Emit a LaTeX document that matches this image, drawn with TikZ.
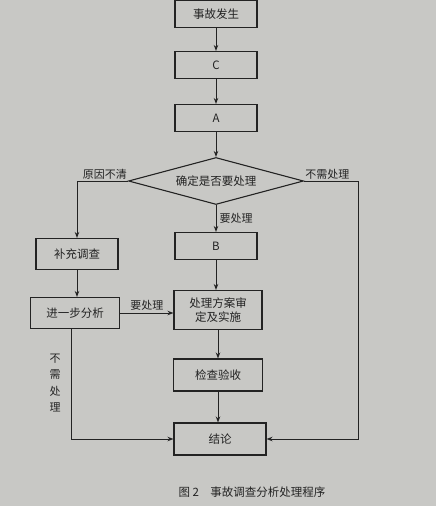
\documentclass[tikz,border=0pt]{standalone}
\usepackage{fontspec}
\setmainfont{Noto Sans CJK SC}
\usepackage{tikz}
\usetikzlibrary{arrows.meta, positioning, shapes.geometric}
\definecolor{paper}{RGB}{200,200,197}
\definecolor{ink}{RGB}{35,35,35}

\begin{document}
\begin{tikzpicture}[x=1pt,y=-1pt,
    box/.style={draw=ink,line width=1.1pt,minimum width=82pt,minimum height=27pt,
      inner sep=2pt,align=center,text=ink,font=\fontsize{11.5}{14}\selectfont},
    decide/.style={draw=ink,line width=1.1pt,diamond,aspect=3.7,inner sep=0pt,
      minimum width=175pt,minimum height=47pt,text=ink,font=\fontsize{11.5}{14}\selectfont},
    lbl/.style={inner sep=1pt,text=ink,font=\fontsize{11}{13}\selectfont},
    arrow/.style={-{Stealth[length=6pt,width=4.5pt]},line width=1pt,ink},
    >=Stealth
  ]
  \fill[paper] (0,0) rectangle (436,506);
  \useasboundingbox (0,0) rectangle (436,506);

  % main column
  \node[box] (start) at (216,14) {事故发生};
  \node[box] (c) at (216,65) {C};
  \node[box] (a) at (216,118) {A};
  \node[decide] (chk) at (216,181) {确定是否要处理};
  \node[box] (b) at (216,246) {B};
  \node[box,minimum width=88pt,minimum height=39pt] (plan) at (218,310) {处理方案审\\定及实施};
  \node[box,minimum width=89pt,minimum height=32pt] (verify) at (218,375) {检查验收};
  \node[box,minimum width=92pt,minimum height=32pt] (result) at (220,439) {结论};

  % left column
  \node[box,minimum height=31pt] (extra) at (77,254) {补充调查};
  \node[box,minimum width=89pt,minimum height=31pt] (further) at (75,313) {进一步分析};

  % right return line
  \coordinate (rturn) at (358,181);

  \draw[arrow] (start) -- (c);
  \draw[arrow] (c) -- (a);
  \draw[arrow] (a) -- (chk);
  \draw[arrow] (chk) -- node[lbl,right=2pt] {要处理} (b);
  \draw[arrow] (b.south) -- (b.south |- plan.north);
  \draw[arrow] (plan) -- (verify);
  \draw[arrow] (verify.south) -- (verify.south |- result.north);

  \draw[arrow] (chk.west) -| (extra.north);
  \node[lbl,anchor=south east] (lblA) at (chk.west) {原因不清};
  \draw[arrow] (chk.east) -- (rturn) |- (result.east);
  \node[lbl,anchor=south west] (lblB) at (chk.east) {不需处理};

  \draw[arrow] (extra.south) -- (extra.south |- further.north);
  \draw[arrow] (further.east) -- node[lbl,above=1pt] {要处理} (further.east -| plan.west);
  \draw[arrow] ([xshift=-4pt]further.south) |- (result.west);
  \node[lbl,align=center,font=\fontsize{11}{16.5}\selectfont] (lblC) at (55,383) {不\\需\\处\\理};

  % caption
  \node[text=ink,font=\fontsize{11.5}{14}\selectfont] (cap) at (252,492) {图 2\quad 事故调查分析处理程序};
\end{tikzpicture}
\end{document}
